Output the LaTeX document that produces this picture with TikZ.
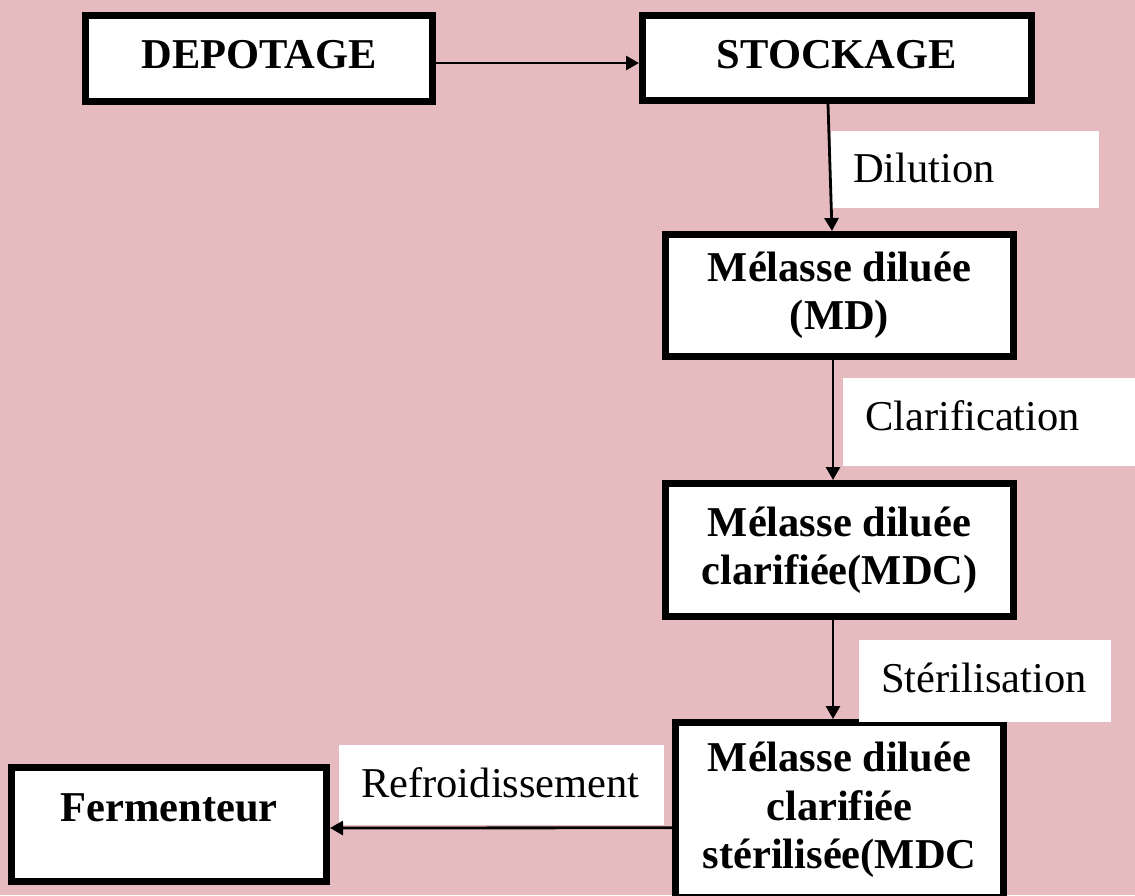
\documentclass[tikz,border=0pt]{standalone}
\usepackage{fontspec}
\setmainfont{Liberation Serif}
\usetikzlibrary{arrows.meta}
\definecolor{bgpink}{RGB}{229,187,191}
\begin{document}
\begin{tikzpicture}[x=1pt,y=-1pt,
  box/.style={draw=black, line width=7pt, fill=white, inner sep=0pt,
    font=\fontsize{42.5}{48.5}\selectfont\bfseries, align=center},
  lbl/.style={fill=white, inner xsep=22pt, inner ysep=0pt, anchor=north west,
    text height=28pt, align=left, font=\fontsize{42.5}{48.5}\selectfont},
  ftext/.style={inner sep=0pt, font=\fontsize{42.5}{48.5}\selectfont\bfseries},
  arr/.style={draw=black, line width=2.8pt, -{Triangle[length=13pt,width=14pt]}}]
\useasboundingbox (0,0) rectangle (1135,895);
\clip (0,0) rectangle (1135,895);
\fill[bgpink] (0,0) rectangle (1135,895);
% process boxes
\node[box, minimum width=347pt, minimum height=86pt, text height=28pt, text depth=8pt] (depot) at (259,58.5) {DEPOTAGE};
\node[box, minimum width=389pt, minimum height=85pt, text height=28pt, text depth=8pt] (stock) at (837,58) {STOCKAGE};
\node[box, minimum width=348pt, minimum height=122pt] (md) at (839.5,295.5) {Mélasse diluée\\(MD)};
\node[box, minimum width=348pt, minimum height=133pt] (mdc) at (839.5,550) {Mélasse diluée\\clarifiée(MDC)};
\node[box, minimum width=328pt, minimum height=174.5pt] (mdcs) at (839.5,809.75) {Mélasse diluée\\clarifiée\\stérilisée(MDC};
\node[box, minimum width=315pt, minimum height=114pt] (ferm) at (169,824.5) {};
\node[ftext] (fermtxt) at (169,808) {Fermenteur};
% step labels
\node[lbl, text width=224pt, minimum height=77pt, text depth=3pt] (ldil) at (831,131) {Dilution};
\node[lbl, text width=249pt, minimum height=88pt, text depth=12pt] (lclar) at (843,378) {Clarification};
\node[lbl, text width=208pt, minimum height=82pt, text depth=6pt] (lster) at (859,640) {Stérilisation};
\node[lbl, text width=281pt, minimum height=80pt, text depth=4pt] (lrefr) at (339,745) {Refroidissement};
% connectors
\draw[arr] ([yshift=-4.5pt]depot.east) -- ([yshift=-5pt]stock.west);
\draw[arr] ([xshift=-9pt]stock.south) -- ([xshift=-7.5pt]md.north);
\draw[arr] ([xshift=-6.5pt]md.south) -- ([xshift=-6.5pt]mdc.north);
\draw[arr] ([xshift=-6.5pt]mdc.south) -- ([xshift=-6.5pt]mdcs.north);
\draw[arr] ([yshift=-18pt]mdcs.west) -- ([yshift=-3.5pt]ferm.east);
\end{tikzpicture}
\end{document}
